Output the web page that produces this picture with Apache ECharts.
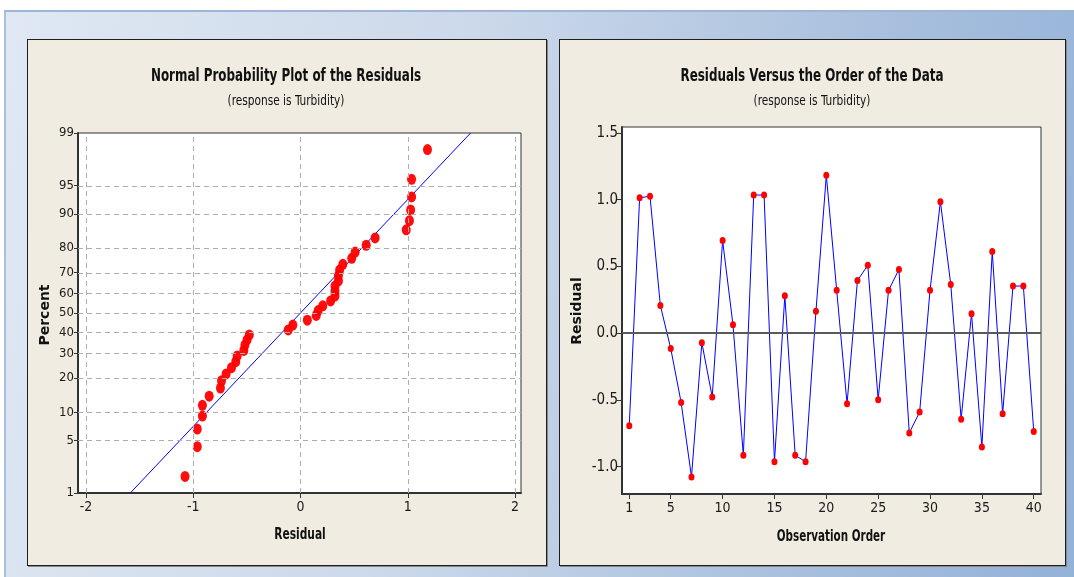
<!DOCTYPE html>
<html><head><meta charset="utf-8">
<script src="https://cdn.jsdelivr.net/npm/echarts@6/dist/echarts.min.js"></script>
<style>
html,body{margin:0;padding:0;background:#fff;}
#wrap{position:relative;width:1074px;height:577px;overflow:hidden;}
#bg{position:absolute;left:4px;top:10px;width:1070px;height:567px;border-top:2px solid #9db6d8;border-left:2px solid #a9bfdc;box-sizing:border-box;
 background:linear-gradient(100deg,#dfe8f3 0%,#ccd9ea 40%,#a9c0de 75%,#93b2d7 100%);}
.panel{position:absolute;background:#f0ece2;border:1px solid #1e1e1e;box-shadow:1px 1px 0 #888;box-sizing:border-box;}
#c{position:absolute;left:0;top:0;width:1074px;height:577px;}
</style>
</head><body>
<div id="wrap">
<div id="bg"></div>
<div class="panel" style="left:27px;top:39px;width:520px;height:527px;"></div>
<div class="panel" style="left:559px;top:39px;width:507px;height:527px;"></div>
<div id="c"></div>
</div>
<script>
// ---- data ----
const observationOrder = [1,2,3,4,5,6,7,8,9,10,11,12,13,14,15,16,17,18,19,20,21,22,23,24,25,26,27,28,29,30,31,32,33,34,35,36,37,38,39,40];
const residuals = [-0.694,1.015,1.026,0.207,-0.115,-0.519,-1.077,-0.072,-0.478,0.695,
                   0.063,-0.915,1.035,1.035,-0.963,0.280,-0.915,-0.963,0.164,1.183,
                   0.321,-0.529,0.394,0.509,-0.499,0.321,0.477,-0.747,-0.591,0.321,
                   0.985,0.364,-0.644,0.146,-0.852,0.612,-0.604,0.353,0.353,-0.737];
const percentTicks = [1,5,10,20,30,40,50,60,70,80,90,95,99];
const residualTicks = [-2,-1,0,1,2];
const orderTicks = [1,5,10,15,20,25,30,35,40];
const residualValueTicks = [-1.0,-0.5,0.0,0.5,1.0,1.5];

// ---- helpers ----
function qnorm(p){
 const a=[-3.969683028665376e+01,2.209460984245205e+02,-2.759285104469687e+02,1.383577518672690e+02,-3.066479806614716e+01,2.506628277459239e+00];
 const b=[-5.447609879822406e+01,1.615858368580409e+02,-1.556989798598866e+02,6.680131188771972e+01,-1.328068155288572e+01];
 const c=[-7.784894002430293e-03,-3.223964580411365e-01,-2.400758277161838e+00,-2.549732539343734e+00,4.374664141464968e+00,2.938163982698783e+00];
 const d=[7.784695709041462e-03,3.224671290700398e-01,2.445134137142996e+00,3.754408661907416e+00];
 const pl=0.02425, ph=1-pl; let q,r;
 if(p<pl){q=Math.sqrt(-2*Math.log(p));return (((((c[0]*q+c[1])*q+c[2])*q+c[3])*q+c[4])*q+c[5])/((((d[0]*q+d[1])*q+d[2])*q+d[3])*q+1);}
 if(p<=ph){q=p-0.5;r=q*q;return (((((a[0]*r+a[1])*r+a[2])*r+a[3])*r+a[4])*r+a[5])*q/(((((b[0]*r+b[1])*r+b[2])*r+b[3])*r+b[4])*r+1);}
 q=Math.sqrt(-2*Math.log(1-p));return -(((((c[0]*q+c[1])*q+c[2])*q+c[3])*q+c[4])*q+c[5])/((((d[0]*q+d[1])*q+d[2])*q+d[3])*q+1);
}
const n = residuals.length;
const sorted = residuals.slice().sort((x,y)=>x-y);
// median-rank plotting positions on the normal probability scale
const probPoints = sorted.map((r,i)=>[r, qnorm((i+1-0.3)/(n+0.4))]);
const mean = residuals.reduce((s,v)=>s+v,0)/n;
const sd = Math.sqrt(residuals.reduce((s,v)=>s+(v-mean)*(v-mean),0)/(n-1));
const zTicks = percentTicks.map(p=>qnorm(p/100));
const zMin = zTicks[0], zMax = zTicks[zTicks.length-1];
const fitLine = [[mean+sd*zMin, zMin],[mean+sd*zMax, zMax]];
function pctLabel(v){let best=0,bd=1e9;zTicks.forEach((z,i)=>{const dd=Math.abs(z-v);if(dd<bd){bd=dd;best=i;}});return String(percentTicks[best]);}

const NARROW = '"DejaVu Sans Condensed","Liberation Sans Narrow",sans-serif';
const labelStyle = {color:'#1a1a1a', fontSize:14, fontFamily:NARROW};
const gridLine = {type:[5,4], color:'#adadad', width:1};

function label(x, y, text, font, sx, rot){
 return {type:'text', z:100, x:x, y:y, scaleX:sx, rotation:rot||0,
  style:{x:0, y:0, text:text, textAlign:'center', textVerticalAlign:'middle', font:font, fill:'#111'}};
}

const chart = echarts.init(document.getElementById('c'), null, {renderer:'canvas'});
chart.setOption({
 backgroundColor:'transparent',
 animation:false,
 grid:[
  {left:78, top:133, width:443, height:360, show:true, backgroundColor:'#ffffff', borderColor:'#333', borderWidth:1, containLabel:false},
  {left:622, top:127, width:419, height:367, show:true, backgroundColor:'#ffffff', borderColor:'#333', borderWidth:1, containLabel:false}
 ],
 xAxis:[
  {type:'value', gridIndex:0, min:-2.075, max:2.055,
   axisLine:{show:true, onZero:false, lineStyle:{color:'#333', width:2}},
   axisTick:{show:true, customValues:residualTicks, length:5, lineStyle:{color:'#333'}},
   axisLabel:{customValues:residualTicks, margin:7, ...labelStyle, formatter:v=>String(Math.round(v))},
   splitLine:{show:false}},
  {type:'value', gridIndex:1, min:0.3, max:40.7,
   axisLine:{show:true, onZero:false, lineStyle:{color:'#333', width:2}},
   axisTick:{show:true, customValues:orderTicks, length:5, lineStyle:{color:'#333'}},
   axisLabel:{customValues:orderTicks, margin:7, ...labelStyle, formatter:v=>String(Math.round(v))},
   splitLine:{show:false}}
 ],
 yAxis:[
  {type:'value', gridIndex:0, min:zMin, max:zMax,
   axisLine:{show:true, onZero:false, lineStyle:{color:'#333', width:2}},
   axisTick:{show:true, customValues:zTicks, length:4, lineStyle:{color:'#333'}},
   axisLabel:{customValues:zTicks, margin:4, ...labelStyle, fontSize:13, formatter:v=>pctLabel(v)},
   splitLine:{show:false}},
  {type:'value', gridIndex:1, min:-1.205, max:1.545,
   axisLine:{show:true, onZero:false, lineStyle:{color:'#333', width:2}},
   axisTick:{show:true, customValues:residualValueTicks, length:5, lineStyle:{color:'#333'}},
   axisLabel:{customValues:residualValueTicks, margin:4, ...labelStyle, fontSize:15, formatter:v=>v.toFixed(1)},
   splitLine:{show:false}}
 ],
 series:[
  {type:'line', xAxisIndex:0, yAxisIndex:0, data:[], z:1, silent:true,
   markLine:{silent:true, symbol:'none', label:{show:false}, lineStyle:gridLine, animation:false,
     data: residualTicks.map(x=>({xAxis:x})).concat(zTicks.slice(1,-1).map(z=>({yAxis:z})))}},
  {type:'line', xAxisIndex:0, yAxisIndex:0, data:fitLine, z:3, symbol:'none',
   lineStyle:{color:'#0000ff', width:1}},
  {type:'scatter', xAxisIndex:0, yAxisIndex:0, data:probPoints, z:4,
   symbol:'circle', symbolSize:[9,11], itemStyle:{color:'#ff0000', opacity:0.95}},
  {type:'line', xAxisIndex:1, yAxisIndex:1, data:observationOrder.map((o,i)=>[o,residuals[i]]), z:3,
   symbol:'circle', symbolSize:[6,7], showSymbol:true,
   lineStyle:{color:'#0000ff', width:1}, itemStyle:{color:'#ff0000'},
   markLine:{silent:true, symbol:'none', label:{show:false}, lineStyle:{color:'#5a5a5a', width:2, type:'solid'}, data:[{yAxis:0}]}}
 ],
 graphic:[
  label(286, 77, 'Normal Probability Plot of the Residuals', 'bold 17px '+NARROW, 0.78),
  label(286, 101, '(response is Turbidity)', '14px '+NARROW, 0.84),
  label(812, 77, 'Residuals Versus the Order of the Data', 'bold 17px '+NARROW, 0.78),
  label(812, 101, '(response is Turbidity)', '14px '+NARROW, 0.84),
  label(300, 535, 'Residual', 'bold 16px '+NARROW, 0.74),
  label(831, 537, 'Observation Order', 'bold 16px '+NARROW, 0.72),
  label(45, 315, 'Percent', 'bold 14px "DejaVu Sans",sans-serif', 1, Math.PI/2),
  label(577, 311, 'Residual', 'bold 14px "DejaVu Sans",sans-serif', 1, Math.PI/2)
 ]
});
</script>
</body></html>
